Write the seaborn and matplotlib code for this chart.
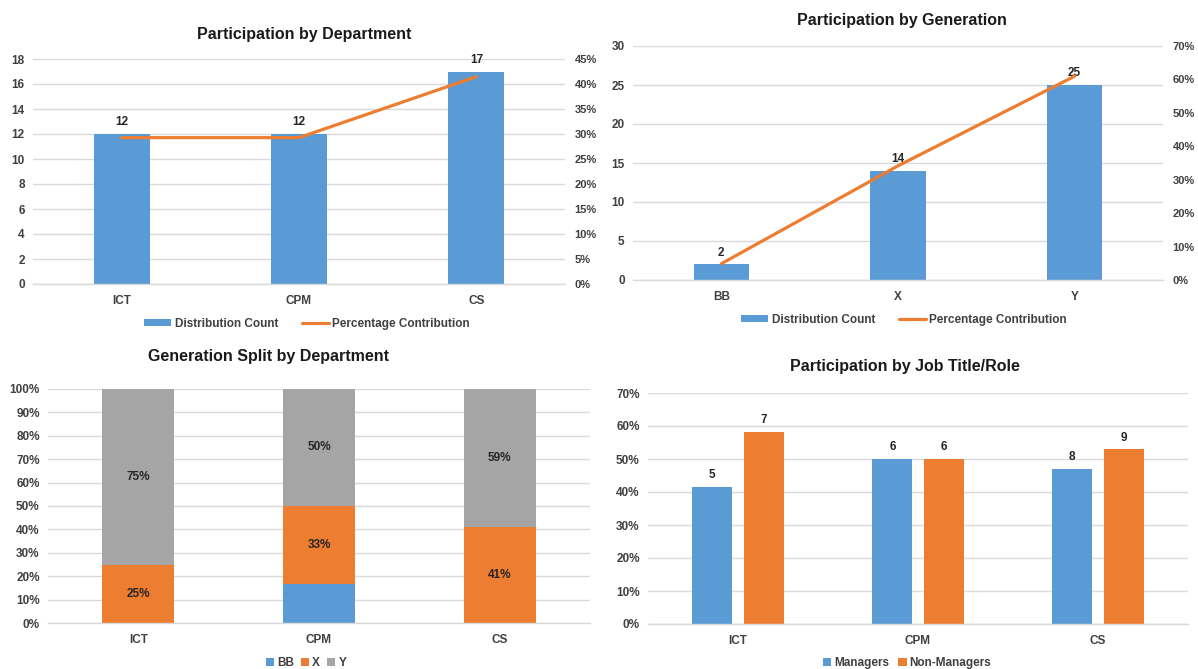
import numpy as np
import pandas as pd
import seaborn as sns
import matplotlib.pyplot as plt
from matplotlib.patches import Patch
from matplotlib.lines import Line2D
from matplotlib.ticker import PercentFormatter

# data
departments = ["ICT", "CPM", "CS"]
dept_counts = [12, 12, 17]

generations = ["BB", "X", "Y"]
gen_counts = [2, 14, 25]

# generation split per department (share of the department)
split_bb = [0.0, 0.167, 0.0]
split_x = [0.25, 0.333, 0.41]
split_y = [0.75, 0.50, 0.59]

managers = [5, 6, 8]
non_managers = [7, 6, 9]

BLUE = "#5B9BD5"
ORANGE = "#ED7D31"
GRAY = "#A5A5A5"
GRID = "#D9D9D9"
TXT = "#404040"

sns.set_theme(style="white")
plt.rcParams["font.family"] = ["Liberation Sans", "DejaVu Sans"]
plt.rcParams["font.weight"] = "bold"

fig = plt.figure(figsize=(11.98, 6.69), dpi=100)
W, H = 1198, 669


def add_ax(x0, x1, ytop, ybot):
    return fig.add_axes([x0 / W, 1 - ybot / H, (x1 - x0) / W, (ybot - ytop) / H])


def style(ax):
    for s in ["top", "right", "left"]:
        ax.spines[s].set_visible(False)
    ax.spines["bottom"].set_color(GRID)
    ax.spines["bottom"].set_linewidth(1.0)
    ax.yaxis.grid(True, color=GRID, linewidth=1.0)
    ax.set_axisbelow(True)
    ax.tick_params(axis="both", length=0, labelsize=8.5, labelcolor=TXT, pad=6)
    ax.tick_params(axis="x", pad=8)
    for lab in ax.get_xticklabels() + ax.get_yticklabels():
        lab.set_fontweight("bold")
    ax.set_xlabel("")
    ax.set_ylabel("")
    ax.set_xlim(-0.5, 2.5)


def style_right(axb, top, step):
    axb.set_ylim(0, top)
    axb.set_yticks(np.arange(0, top + 0.001, step))
    axb.yaxis.set_major_formatter(PercentFormatter(1.0, decimals=0))
    for s in axb.spines.values():
        s.set_visible(False)
    axb.tick_params(axis="y", length=0, labelsize=8, labelcolor=TXT, pad=7)
    for lab in axb.get_yticklabels():
        lab.set_fontweight("bold")
    axb.grid(False)


def bar_labels(ax, xs, ys, texts, off=4):
    for x, y, t in zip(xs, ys, texts):
        ax.annotate(t, (x, y), xytext=(0, off), textcoords="offset points",
                    ha="center", va="bottom", fontsize=8.5, fontweight="bold", color="#262626")


# 1. Participation by Department
ax1 = add_ax(33, 565, 59, 284)
sns.barplot(x=departments, y=dept_counts, color=BLUE, width=0.315, saturation=1,
            linewidth=0, ax=ax1)
ax1.set_ylim(0, 18)
ax1.set_yticks(range(0, 19, 2))
style(ax1)
bar_labels(ax1, range(3), dept_counts, [str(v) for v in dept_counts])
ax1b = ax1.twinx()
dept_pct = np.array(dept_counts) / sum(dept_counts)
ax1b.plot(range(3), dept_pct, color=ORANGE, linewidth=2.3)
style_right(ax1b, 0.45, 0.05)
fig.text(304 / W, 1 - 34 / H, "Participation by Department", ha="center", va="center",
         fontsize=11.5, fontweight="bold", color="#1a1a1a")

# 2. Participation by Generation
ax2 = add_ax(633, 1163, 46, 280)
sns.barplot(x=generations, y=gen_counts, color=BLUE, width=0.315, saturation=1,
            linewidth=0, ax=ax2)
ax2.set_ylim(0, 30)
ax2.set_yticks(range(0, 31, 5))
style(ax2)
bar_labels(ax2, range(3), gen_counts, [str(v) for v in gen_counts])
ax2b = ax2.twinx()
gen_pct = np.array(gen_counts) / sum(gen_counts)
ax2b.plot(range(3), gen_pct, color=ORANGE, linewidth=2.3)
style_right(ax2b, 0.70, 0.10)
fig.text(902 / W, 1 - 20 / H, "Participation by Generation", ha="center", va="center",
         fontsize=11.5, fontweight="bold", color="#1a1a1a")

line_handles = [Patch(facecolor=BLUE, edgecolor="none"),
                Line2D([0], [0], color=ORANGE, linewidth=2.3)]
line_labels = ["Distribution Count", "Percentage Contribution"]
for cx, cy in [(307, 324), (904, 320)]:
    fig.legend(line_handles, line_labels, loc="center", bbox_to_anchor=(cx / W, 1 - cy / H),
               ncol=2, frameon=False, fontsize=8.5, handlelength=2.3, handleheight=0.55,
               columnspacing=2.0, handletextpad=0.3, labelcolor=TXT)

# 3. Generation Split by Department (stacked)
ax3 = add_ax(48, 590, 389, 623)
top_y = np.array(split_bb) + np.array(split_x) + np.array(split_y)
top_x = np.array(split_bb) + np.array(split_x)
sns.barplot(x=departments, y=top_y, color=GRAY, width=0.40, saturation=1, linewidth=0,
            ax=ax3, label="Y")
sns.barplot(x=departments, y=top_x, color=ORANGE, width=0.40, saturation=1, linewidth=0,
            ax=ax3, label="X")
sns.barplot(x=departments, y=split_bb, color=BLUE, width=0.40, saturation=1, linewidth=0,
            ax=ax3, label="BB")
ax3.set_ylim(0, 1.0)
ax3.set_yticks(np.arange(0, 1.01, 0.1))
ax3.yaxis.set_major_formatter(PercentFormatter(1.0, decimals=0))
if ax3.get_legend() is not None:
    ax3.get_legend().remove()
style(ax3)
for i in range(3):
    if split_x[i] > 0:
        ax3.text(i, split_bb[i] + split_x[i] / 2, f"{split_x[i] * 100:.0f}%", ha="center",
                 va="center", fontsize=8.5, fontweight="bold", color="#262626")
    if split_y[i] > 0:
        ax3.text(i, top_x[i] + split_y[i] / 2, f"{split_y[i] * 100:.0f}%", ha="center",
                 va="center", fontsize=8.5, fontweight="bold", color="#262626")
fig.text(269 / W, 1 - 356 / H, "Generation Split by Department", ha="center", va="center",
         fontsize=11.5, fontweight="bold", color="#1a1a1a")
sq = dict(edgecolor="none")
fig.legend([Patch(facecolor=BLUE, **sq), Patch(facecolor=ORANGE, **sq), Patch(facecolor=GRAY, **sq)],
           ["BB", "X", "Y"], loc="center", bbox_to_anchor=(306 / W, 1 - 663 / H), ncol=3,
           frameon=False, fontsize=8.5, handlelength=0.7, handleheight=0.7,
           columnspacing=0.6, handletextpad=0.25, labelcolor=TXT)

# 4. Participation by Job Title/Role
ax4 = add_ax(648, 1188, 393, 624)
totals = np.array(managers) + np.array(non_managers)
role_df = pd.DataFrame({
    "dept": departments * 2,
    "role": ["Managers"] * 3 + ["Non-Managers"] * 3,
    "count": managers + non_managers,
})
role_df["share"] = role_df["count"] / np.tile(totals, 2)
sns.barplot(data=role_df, x="dept", y="share", hue="role", palette=[BLUE, ORANGE],
            width=0.57, gap=0.22, saturation=1, linewidth=0, ax=ax4)
ax4.set_ylim(0, 0.70)
ax4.set_yticks(np.arange(0, 0.701, 0.1))
ax4.yaxis.set_major_formatter(PercentFormatter(1.0, decimals=0))
if ax4.get_legend() is not None:
    ax4.get_legend().remove()
style(ax4)
for cont, vals in zip(ax4.containers, [managers, non_managers]):
    ax4.bar_label(cont, labels=[str(v) for v in vals], padding=4, fontsize=8.5,
                  fontweight="bold", color="#262626")
fig.text(905 / W, 1 - 367 / H, "Participation by Job Title/Role", ha="center", va="center",
         fontsize=11.5, fontweight="bold", color="#1a1a1a")
fig.legend([Patch(facecolor=BLUE, **sq), Patch(facecolor=ORANGE, **sq)],
           ["Managers", "Non-Managers"], loc="center", bbox_to_anchor=(907 / W, 1 - 663 / H),
           ncol=2, frameon=False, fontsize=8.5, handlelength=0.7, handleheight=0.7,
           columnspacing=0.8, handletextpad=0.25, labelcolor=TXT)

fig.savefig("out.png", dpi=100)
